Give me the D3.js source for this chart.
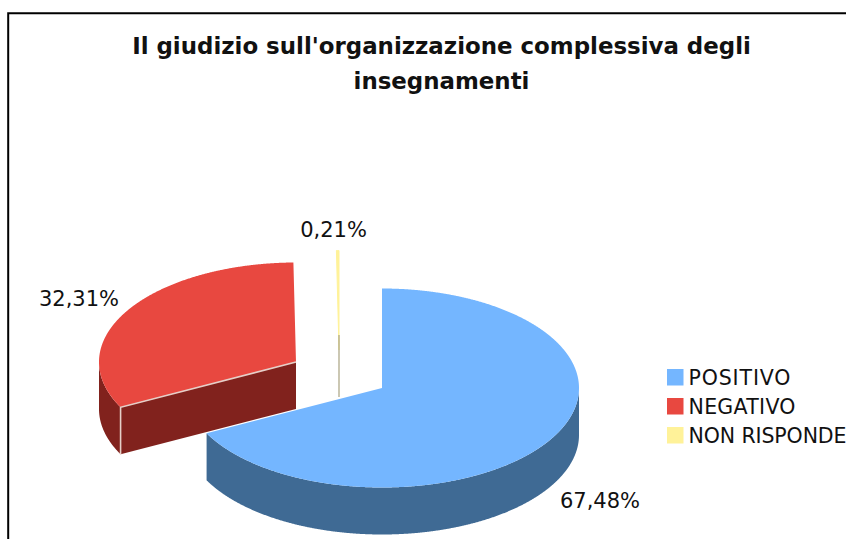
<!DOCTYPE html>
<html><head><meta charset="utf-8">
<script src="https://cdn.jsdelivr.net/npm/d3@7"></script>
<style>html,body{margin:0;padding:0;background:#fff;overflow:hidden}svg{display:block}text{font-family:"DejaVu Sans",sans-serif;fill:#111}</style>
</head><body><svg id="c" width="846" height="539"></svg>
<script>
const categories = ["POSITIVO", "NEGATIVO", "NON RISPONDE"];
const values = [67.48, 32.31, 0.21];
const valueLabels = ["67,48%", "32,31%", "0,21%"];
const titleLines = ["Il giudizio sull'organizzazione complessiva degli", "insegnamenti"];
const topColors = ["#74b6ff", "#e84840", "#fff299"];
const sideColors = ["#3f6a94", "#81221d", "#b0aa8a"];
const apexes = [[382, 388], [296, 362], [339, 350]];
const labelPos = [[600, 508], [79, 306], [333.5, 237]];
const legendWidths = [102, 107, 158];

const rx = 197, ry = 99.5, depth = 47;
const svg = d3.select("#c");

svg.append("path").attr("d", "M8.2 539V13.2H846").attr("fill", "none").attr("stroke", "#000").attr("stroke-width", 2);

const title = svg.append("g").attr("font-weight", "bold").attr("font-size", 22.9).attr("text-anchor", "middle");
titleLines.forEach((t, i) => title.append("text").attr("x", 441.5).attr("y", 54 + i * 34.5).text(t));

const arcs = d3.pie().sort(null).value(d => d)(values);
const pt = (ap, a, dy = 0) => [ap[0] + rx * Math.sin(a), ap[1] - ry * Math.cos(a) + dy];
function rim(ap, a0, a1, dy) {
  const n = Math.max(2, Math.ceil(Math.abs(a1 - a0) / 0.004));
  return d3.range(n + 1).map(i => pt(ap, a0 + (a1 - a0) * i / n, dy));
}
const line = d3.line();
const PI = Math.PI;

function drawSlice(i) {
  const { startAngle: s, endAngle: e } = arcs[i];
  const ap = apexes[i], g = svg.append("g");
  if (i === 0) {
    // outer wall from the right-most point round the front to the cut
    const top = rim(ap, PI / 2, e, 0), bot = rim(ap, e, PI / 2, depth);
    g.append("path").attr("d", line(top.concat(bot)) + "Z").attr("fill", sideColors[i]);
  }
  if (i === 1) {
    // outer wall on the left, then the cut face towards the viewer
    const top = rim(ap, s, 1.5 * PI, 0), bot = rim(ap, 1.5 * PI, s, depth);
    g.append("path").attr("d", line(top.concat(bot)) + "Z").attr("fill", sideColors[i]);
    const c = pt(ap, s);
    g.append("path").attr("d", line([ap, c, [c[0], c[1] + depth], [ap[0], ap[1] + depth]]) + "Z").attr("fill", sideColors[i]);
  }
  g.append("path").attr("d", line([ap].concat(rim(ap, s, e, 0))) + "Z").attr("fill", topColors[i])
    .attr("stroke", i === 2 ? topColors[i] : "none").attr("stroke-width", 1);
  if (i === 2) {
    g.append("line").attr("x1", ap[0]).attr("y1", ap[1] - 15).attr("x2", ap[0]).attr("y2", ap[1] + depth)
      .attr("stroke", sideColors[i]).attr("stroke-width", 1.3);
  }
  if (i === 1) {
    const c = pt(ap, s);
    g.append("path").attr("d", line([ap, c, [c[0], c[1] + depth]])).attr("fill", "none").attr("stroke", "#e6cfc8").attr("stroke-width", 1.6);
  }
}
[1, 2, 0].forEach(drawSlice);

valueLabels.forEach((t, i) => svg.append("text").attr("x", labelPos[i][0]).attr("y", labelPos[i][1])
  .attr("text-anchor", "middle").attr("font-size", 21).text(t));

const legendY = d3.scalePoint().domain(categories).range([377, 435]);
categories.forEach((c, i) => {
  svg.append("rect").attr("x", 667).attr("y", legendY(c) - 8).attr("width", 16.5).attr("height", 16.5).attr("fill", topColors[i]);
  svg.append("text").attr("x", 688.5).attr("y", legendY(c) + 8).attr("font-size", 20.5)
    .attr("textLength", legendWidths[i]).attr("lengthAdjust", "spacing").text(c);
});
</script></body></html>
